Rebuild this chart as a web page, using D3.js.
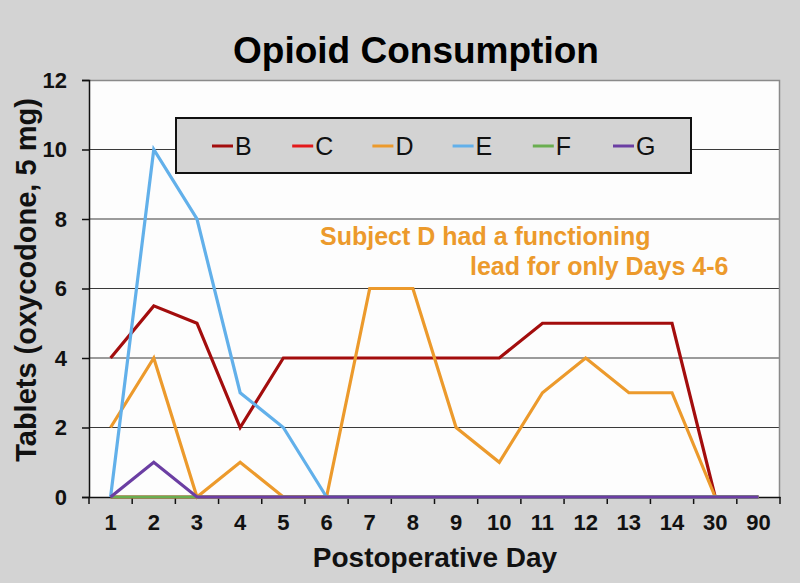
<!DOCTYPE html>
<html><head><meta charset="utf-8">
<script src="https://cdn.jsdelivr.net/npm/d3@7"></script>
<style>html,body{margin:0;padding:0;background:#d3d3d3;}svg{display:block;font-family:"Liberation Sans",Arial,sans-serif;}</style>
</head><body>
<svg id="c" width="800" height="583"></svg>
<script>
const categories = ["1","2","3","4","5","6","7","8","9","10","11","12","13","14","30","90"];
const yTicks = [0,2,4,6,8,10,12];
const seriesNames = ["B","C","D","E","F","G"];
const seriesColors = ["#a30d0d","#e3191b","#ec9a2c","#62b0ea","#6aae50","#6b3ea3"];
const valuesB = [4,5.5,5,2,4,4,4,4,4,4,5,5,5,5,0,0];
const valuesC = [0,0,0,0,0,0,0,0,0,0,0,0,0,0,0,0];
const valuesD = [2,4,0,1,0,0,6,6,2,1,3,4,3,3,0,0];
const valuesE = [0,10,8,3,2,0,0,0,0,0,0,0,0,0,0,0];
const valuesF = [0,0,0,0,0,0,0,0,0,0,0,0,0,0,0,0];
const valuesG = [0,1,0,0,0,0,0,0,0,0,0,0,0,0,0,0];
const allValues = [valuesB,valuesC,valuesD,valuesE,valuesF,valuesG];

const svg = d3.select("#c");
const L=89, R=780, T=80, B=497;
const FONT = "Liberation Sans, Arial, sans-serif";
const x = d3.scaleBand().domain(categories).range([L,R]);
const y = d3.scaleLinear().domain([0,12]).range([B,T]);

svg.append("rect").attr("x",L).attr("y",T).attr("width",R-L).attr("height",B-T).attr("fill","#fdfdfd");
svg.append("g").selectAll("line").data(yTicks.filter(d=>d>0&&d<12)).join("line")
  .attr("x1",L).attr("x2",R).attr("y1",d=>y(d)).attr("y2",d=>y(d))
  .attr("stroke","#3a3a3a").attr("stroke-width",1.2);
svg.append("path").attr("d",`M${L},${T+0.5}H${R-0.5}V${B}`).attr("fill","none").attr("stroke","#8a8a8a").attr("stroke-width",1.5);

const yAxis = svg.append("g").attr("transform",`translate(${L},0)`)
  .call(d3.axisLeft(y).tickValues(yTicks).tickSize(7).tickPadding(15).tickFormat(d3.format("d")));
yAxis.select(".domain").attr("stroke","#111").attr("stroke-width",1.5);
yAxis.selectAll(".tick line").attr("stroke","#111").attr("stroke-width",1.5);
yAxis.selectAll("text").attr("font-size",22).attr("font-weight","bold").attr("fill","#111").attr("font-family",FONT);

const xAxis = svg.append("g").attr("transform",`translate(0,${B})`)
  .call(d3.axisBottom(x).tickSize(0).tickPadding(17));
xAxis.select(".domain").attr("stroke","#111").attr("stroke-width",1.5);
xAxis.selectAll("text").attr("font-size",22).attr("font-weight","bold").attr("fill","#111").attr("font-family",FONT);
const bounds = categories.map(c=>x(c)).concat([R]);
svg.append("g").selectAll("line").data(bounds).join("line")
  .attr("x1",d=>d).attr("x2",d=>d).attr("y1",B).attr("y2",B+7)
  .attr("stroke","#111").attr("stroke-width",1.5);

const line = d3.line().x((d,i)=>x(categories[i])+x.bandwidth()/2).y(d=>y(d));
allValues.forEach((vals,k)=>{
  svg.append("path").datum(vals).attr("d",line).attr("fill","none")
    .attr("stroke",seriesColors[k]).attr("stroke-width",3.2).attr("stroke-linejoin","miter");
});

svg.append("rect").attr("x",176).attr("y",118).attr("width",515).attr("height",55)
  .attr("fill","#d3d3d3").attr("stroke","#111").attr("stroke-width",2);
const lg = svg.append("g").selectAll("g").data(seriesNames).join("g")
  .attr("transform",(d,i)=>`translate(${212+i*80.2},146)`);
lg.append("line").attr("x1",0).attr("x2",21).attr("y1",0).attr("y2",0)
  .attr("stroke",(d,i)=>seriesColors[i]).attr("stroke-width",3);
lg.append("text").attr("x",23).attr("y",9).attr("font-size",25).attr("fill","#111").text(d=>d);

svg.append("text").attr("x",416).attr("y",63).attr("text-anchor","middle")
  .attr("font-size",37).attr("font-weight","bold").attr("fill","#000").text("Opioid Consumption");
svg.append("text").attr("transform","translate(36,280) rotate(-90)").attr("text-anchor","middle")
  .attr("font-size",29).attr("font-weight","bold").attr("fill","#111").text("Tablets (oxycodone, 5 mg)");
svg.append("text").attr("x",435).attr("y",567).attr("text-anchor","middle")
  .attr("font-size",28).attr("font-weight","bold").attr("fill","#111").text("Postoperative Day");
svg.append("text").attr("x",320).attr("y",245).attr("font-size",25).attr("font-weight","bold").attr("fill","#ec9a2c").text("Subject D had a functioning");
svg.append("text").attr("x",470).attr("y",275).attr("font-size",25).attr("font-weight","bold").attr("fill","#ec9a2c").text("lead for only Days 4-6");
</script>
</body></html>
